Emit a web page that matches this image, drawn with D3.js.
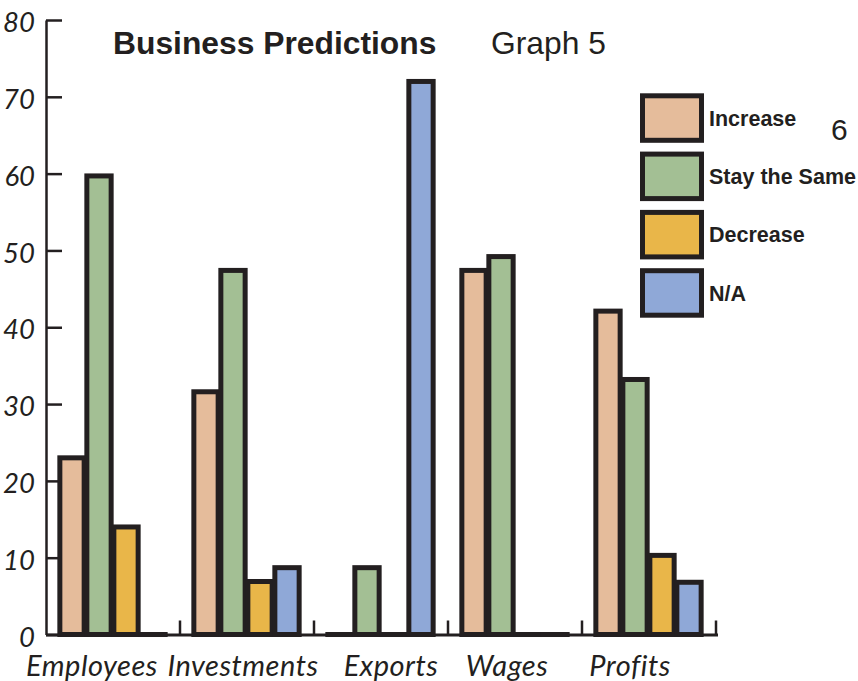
<!DOCTYPE html>
<html>
<head>
<meta charset="utf-8">
<script src="https://cdn.jsdelivr.net/npm/d3@7"></script>
<style>
  html, body { margin: 0; padding: 0; background: #fff; }
  svg { display: block; }
</style>
</head>
<body>
<svg id="chart" width="858" height="681"></svg>
<script>
// Survey categories and the answer series shown for each
const categories = ["Employees", "Investments", "Exports", "Wages", "Profits"];
const series = ["Increase", "Stay the Same", "Decrease", "N/A"];

// Percent of respondents per answer, one array per series (category order)
const increase   = [23,   31.6, 0,   47.4, 42.1];
const staySame   = [59.7, 47.4, 8.7, 49.2, 33.2];
const decrease   = [14,   6.9,  0,   0,    10.3];
const notApplic  = [0,    8.7,  72,  0,    6.8];

const yTicks = [0, 10, 20, 30, 40, 50, 60, 70, 80];

// Category label nudges (px) so each word sits under its bars
const labelNudge = [-21, -4, 10, -8, -19];

const colors = {
  "Increase": "#e5bc9b",
  "Stay the Same": "#a3bf94",
  "Decrease": "#e9b649",
  "N/A": "#8fa8d7"
};
const ink = "#231f20";

const valuesBySeries = {
  "Increase": increase,
  "Stay the Same": staySame,
  "Decrease": decrease,
  "N/A": notApplic
};

const svg = d3.select("#chart");
svg.append("rect").attr("width", 858).attr("height", 681).attr("fill", "#fff");

const axisX = 46, baseY = 634.5, topY = 20, rightX = 716;

const y = d3.scaleLinear().domain([0, 80]).range([baseY, topY]);
const x0 = d3.scaleBand().domain(categories).range([axisX, rightX]);
const x1 = d3.scaleBand().domain(series).range([12.5, 120.5])
  .paddingInner(0.1).paddingOuter(0.05);

// Y axis: ticks point inward, italic numerals on the left
const yAxis = d3.axisLeft(y).tickValues(yTicks).tickSize(-16).tickSizeOuter(0).tickPadding(11);
const gy = svg.append("g").attr("transform", `translate(${axisX},0)`).call(yAxis);
gy.select(".domain").attr("stroke", ink).attr("stroke-width", 2.5);
gy.selectAll(".tick line").attr("stroke", ink).attr("stroke-width", 2.5);
gy.selectAll(".tick text")
  .attr("fill", ink)
  .attr("dy", "0.42em")
  .style("font-family", "Lato, 'Open Sans', sans-serif")
  .style("font-style", "italic")
  .style("font-size", "27.5px");

// X axis baseline with upward separators between categories
const gx = svg.append("g");
gx.append("line")
  .attr("x1", axisX).attr("x2", rightX + 2)
  .attr("y1", y(0) + 0.5).attr("y2", y(0) + 0.5)
  .attr("stroke", ink).attr("stroke-width", 3);
gx.selectAll("line.sep")
  .data(categories)
  .join("line")
  .attr("class", "sep")
  .attr("x1", d => x0(d) + x0.step()).attr("x2", d => x0(d) + x0.step())
  .attr("y1", y(0)).attr("y2", y(0) - 14)
  .attr("stroke", ink).attr("stroke-width", 2.5);

gx.selectAll("text.cat")
  .data(categories)
  .join("text")
  .attr("class", "cat")
  .attr("x", (d, i) => x0(d) + x0.bandwidth() / 2 + labelNudge[i])
  .attr("y", 676)
  .attr("text-anchor", "middle")
  .attr("fill", ink)
  .style("font-family", "Lato, 'Open Sans', sans-serif")
  .style("font-style", "italic")
  .style("font-size", "29px")
  .style("letter-spacing", "0.5px")
  .text(d => d);

// Bars
const groups = svg.append("g").selectAll("g")
  .data(categories)
  .join("g")
  .attr("transform", d => `translate(${x0(d)},0)`);

groups.selectAll("rect")
  .data((c, ci) => series.map(s => ({ series: s, value: valuesBySeries[s][ci] })))
  .join("rect")
  .attr("x", d => x1(d.series))
  .attr("width", x1.bandwidth())
  .attr("y", d => y(d.value))
  .attr("height", d => Math.max(y(0) - y(d.value), 0.01))
  .attr("fill", d => colors[d.series])
  .attr("stroke", ink)
  .attr("stroke-width", 5);

// Title
svg.append("text")
  .attr("x", 113).attr("y", 54)
  .attr("fill", ink)
  .style("font-family", "'Liberation Sans', Arial, sans-serif")
  .style("font-weight", "bold")
  .style("font-size", "31.8px")
  .text("Business Predictions");
svg.append("text")
  .attr("x", 491).attr("y", 54)
  .attr("fill", ink)
  .style("font-family", "'Liberation Sans', Arial, sans-serif")
  .style("font-size", "31.8px")
  .text("Graph 5");
svg.append("text")
  .attr("x", 831).attr("y", 140)
  .attr("fill", ink)
  .style("font-family", "'Liberation Sans', Arial, sans-serif")
  .style("font-size", "30px")
  .text("6");

// Legend
const legend = svg.append("g").attr("transform", "translate(642.5,95.8)");
const items = legend.selectAll("g")
  .data(series)
  .join("g")
  .attr("transform", (d, i) => `translate(0,${i * 58.3})`);
items.append("rect")
  .attr("width", 59).attr("height", 44.5)
  .attr("fill", d => colors[d])
  .attr("stroke", ink).attr("stroke-width", 5);
items.append("text")
  .attr("x", 66.5).attr("y", 30)
  .attr("fill", ink)
  .style("font-family", "'Liberation Sans', Arial, sans-serif")
  .style("font-weight", "bold")
  .style("font-size", "21.5px")
  .text(d => d);
</script>
</body>
</html>
